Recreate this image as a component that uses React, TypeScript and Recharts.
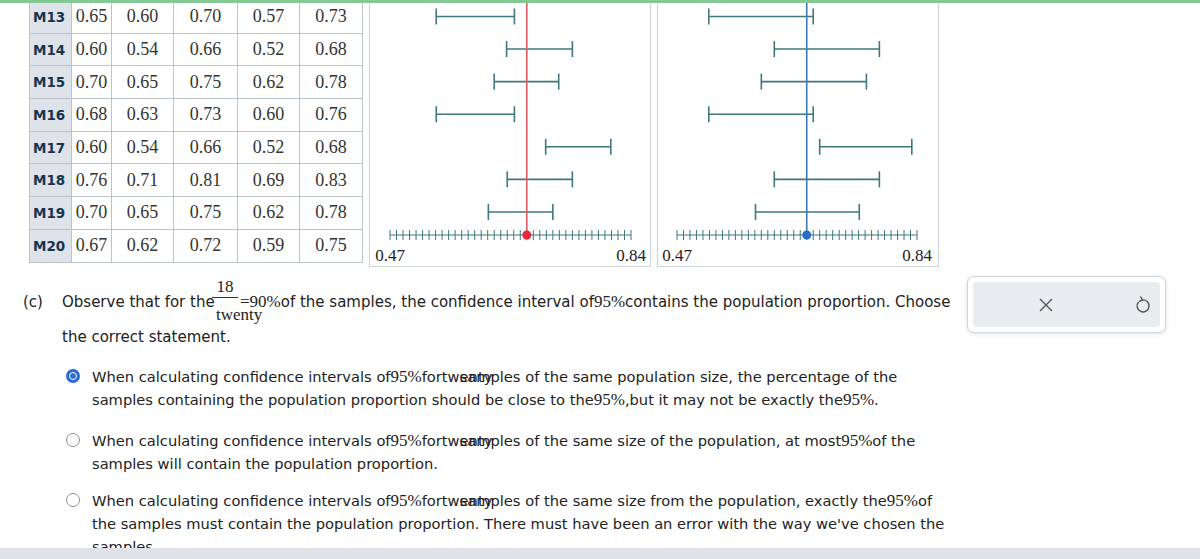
import React from 'react';
import { BarChart, Bar, XAxis, YAxis, ReferenceLine } from 'recharts';

// table rows (sample, p-hat, 90% low, 90% high, 95% low, 95% high)
const sampleNames = ['M13', 'M14', 'M15', 'M16', 'M17', 'M18', 'M19', 'M20'];
const pHat = ['0.65', '0.60', '0.70', '0.68', '0.60', '0.76', '0.70', '0.67'];
const low90 = ['0.60', '0.54', '0.65', '0.63', '0.54', '0.71', '0.65', '0.62'];
const high90 = ['0.70', '0.66', '0.75', '0.73', '0.66', '0.81', '0.75', '0.72'];
const low95 = ['0.57', '0.52', '0.62', '0.60', '0.52', '0.69', '0.62', '0.59'];
const high95 = ['0.73', '0.68', '0.78', '0.76', '0.68', '0.83', '0.78', '0.75'];

// intervals as drawn in the two plots (rows M13..M19)
const plotRows = ['M13', 'M14', 'M15', 'M16', 'M17', 'M18', 'M19'];
const leftLow = [0.541, 0.649, 0.63, 0.541, 0.709, 0.65, 0.621];
const leftHigh = [0.661, 0.75, 0.729, 0.661, 0.809, 0.75, 0.72];
const rightLow = [0.519, 0.62, 0.6, 0.519, 0.69, 0.62, 0.591];
const rightHigh = [0.68, 0.782, 0.762, 0.68, 0.832, 0.782, 0.751];
const leftP = 0.68;
const rightP = 0.67;

const axisTicks = [
  0.47, 0.48, 0.49, 0.5, 0.51, 0.52, 0.53, 0.54, 0.55, 0.56, 0.57, 0.58, 0.59,
  0.6, 0.61, 0.62, 0.63, 0.64, 0.65, 0.66, 0.67, 0.68, 0.69, 0.7, 0.71, 0.72,
  0.73, 0.74, 0.75, 0.76, 0.77, 0.78, 0.79, 0.8, 0.81, 0.82, 0.83, 0.84,
];

const TEAL = '#3e777c';
const SANS = '"DejaVu Sans", Verdana, sans-serif';
const SERIF = '"Liberation Serif", "Times New Roman", serif';

const IntervalShape = (props: any) => {
  const { x, y, width, height } = props;
  const cy = y + height / 2;
  return (
    <g stroke={TEAL} strokeWidth={1.6} fill="none">
      <line x1={x} x2={x + width} y1={cy} y2={cy} />
      <line x1={x} x2={x} y1={cy - 8} y2={cy + 8} />
      <line x1={x + width} x2={x + width} y1={cy - 8} y2={cy + 8} />
    </g>
  );
};

const makeTick = (p: number, dotColor: string) => (props: any) => {
  const { x, y, payload, index } = props;
  const v = payload.value;
  const isEnd = index === 0 || index === axisTicks.length - 1;
  return (
    <g>
      <line x1={x} x2={x} y1={y - 5} y2={y + 5} stroke={TEAL} strokeWidth={1} />
      {Math.abs(v - p) < 1e-6 && <circle cx={x} cy={y} r={4.5} fill={dotColor} />}
      {isEnd && (
        <text x={x} y={y + 26} textAnchor="middle" fontFamily={SERIF} fontSize={17} fill="#222">
          {v.toFixed(2)}
        </text>
      )}
    </g>
  );
};

const IntervalPlot = ({ lows, highs, p, lineColor, dotColor, left, ml, mr }: any) => {
  const data = plotRows.map((r, i) => ({ row: r, range: [lows[i], highs[i]] }));
  return (
    <div style={{ position: 'absolute', left, top: 0 }}>
      <BarChart
        width={280}
        height={266}
        data={data}
        layout="vertical"
        margin={{ top: 0, right: mr, bottom: 1, left: ml }}
        barCategoryGap={0}
      >
        <XAxis
          type="number"
          domain={[0.47, 0.84]}
          ticks={axisTicks}
          interval={0}
          tickSize={0}
          tickMargin={0}
          height={30}
          allowDataOverflow
          axisLine={{ stroke: TEAL, strokeWidth: 1.2 }}
          tick={makeTick(p, dotColor)}
        />
        <YAxis type="category" dataKey="row" hide padding={{ top: 0, bottom: 7 }} />
        <ReferenceLine x={p} stroke={lineColor} strokeWidth={1.6} />
        <Bar dataKey="range" shape={IntervalShape} isAnimationActive={false} />
      </BarChart>
    </div>
  );
};

const cellBase: React.CSSProperties = {
  border: '1px solid #bcc4cb',
  textAlign: 'center',
  fontFamily: SERIF,
  fontSize: 18,
  color: '#333',
  padding: 0,
  height: 31.7,
};

const Radio = ({ top, checked }: { top: number; checked?: boolean }) => (
  <div
    style={{
      position: 'absolute',
      left: 66,
      top: top - 7,
      width: 14,
      height: 14,
      borderRadius: '50%',
      boxSizing: 'border-box',
      background: checked ? '#2a6bd6' : '#fff',
      border: checked ? 'none' : '1px solid #8a8f95',
    }}
  >
    {checked && (
      <div
        style={{
          position: 'absolute',
          left: 3,
          top: 3,
          width: 8,
          height: 8,
          borderRadius: '50%',
          boxSizing: 'border-box',
          border: '1.5px solid #fff',
          background: '#2a6bd6',
        }}
      />
    )}
  </div>
);

const Twenty = () => (
  <>
    fortw
    <span style={{ position: 'relative' }}>
      <span style={{ position: 'absolute', left: 0 }}>enty</span>
      samples
    </span>
  </>
);

const P95 = () => <span style={{ fontFamily: SERIF, fontSize: 17 }}>95%</span>;

const textLine: React.CSSProperties = {
  position: 'absolute',
  fontFamily: SANS,
  fontSize: 15,
  color: '#222',
  whiteSpace: 'nowrap',
  lineHeight: '18px',
};

const optionLine: React.CSSProperties = {
  ...textLine,
  fontSize: 14.67,
  lineHeight: '23px',
  left: 92,
};

export default function App() {
  return (
    <div
      style={{
        position: 'absolute',
        left: 0,
        top: 0,
        width: 1200,
        height: 559,
        overflow: 'hidden',
        background: '#fff',
      }}
    >
      {/* table */}
      <table
        style={{
          position: 'absolute',
          left: 29,
          top: 0,
          borderCollapse: 'collapse',
          tableLayout: 'fixed',
        }}
      >
        <colgroup>
          <col style={{ width: 42 }} />
          <col style={{ width: 40 }} />
          <col style={{ width: 62 }} />
          <col style={{ width: 64 }} />
          <col style={{ width: 62 }} />
          <col style={{ width: 63 }} />
        </colgroup>
        <tbody>
          {sampleNames.map((name, i) => (
            <tr key={name}>
              <td
                style={{
                  ...cellBase,
                  background: '#dde3e8',
                  fontFamily: SANS,
                  fontWeight: 'bold',
                  fontSize: 13.5,
                  color: '#17344f',
                  textAlign: 'left',
                  paddingLeft: 3,
                }}
              >
                {name}
              </td>
              <td style={cellBase}>{pHat[i]}</td>
              <td style={cellBase}>{low90[i]}</td>
              <td style={cellBase}>{high90[i]}</td>
              <td style={cellBase}>{low95[i]}</td>
              <td style={cellBase}>{high95[i]}</td>
            </tr>
          ))}
        </tbody>
      </table>

      {/* plot panels */}
      <div
        style={{
          position: 'absolute',
          left: 369,
          top: -10,
          width: 280,
          height: 275,
          border: '1px solid #cfd4d8',
        }}
      />
      <div
        style={{
          position: 'absolute',
          left: 657,
          top: -10,
          width: 280,
          height: 275,
          border: '1px solid #cfd4d8',
        }}
      />
      <IntervalPlot
        lows={leftLow}
        highs={leftHigh}
        p={leftP}
        lineColor="#de5b66"
        dotColor="#e42a3c"
        left={369}
        ml={21}
        mr={18}
      />
      <IntervalPlot
        lows={rightLow}
        highs={rightHigh}
        p={rightP}
        lineColor="#3c78b4"
        dotColor="#2c6cc6"
        left={657}
        ml={20}
        mr={20}
      />

      {/* top green bar */}
      <div style={{ position: 'absolute', left: 0, top: 0, width: 1200, height: 3, background: '#84c994' }} />

      {/* question (c) */}
      <div style={{ ...textLine, left: 23, top: 293 }}>(c)</div>
      <div style={{ ...textLine, left: 62, top: 293 }}>Observe that for the</div>
      <div
        style={{
          position: 'absolute',
          left: 212,
          top: 276,
          width: 26,
          fontFamily: SERIF,
          fontSize: 17,
          color: '#222',
        }}
      >
        <div style={{ textAlign: 'center', lineHeight: '21px', height: 21 }}>18</div>
        <div style={{ borderTop: '1px solid #333', width: 26 }} />
        <div style={{ lineHeight: '18px', marginTop: 8, marginLeft: 4, whiteSpace: 'nowrap' }}>twenty</div>
      </div>
      <div style={{ ...textLine, left: 240, top: 293 }}>
        <span style={{ fontFamily: SERIF, fontSize: 17 }}>=90%</span>of the samples, the confidence
        interval of<P95 />contains the population proportion. Choose
      </div>
      <div style={{ ...textLine, left: 62, top: 328 }}>the correct statement.</div>

      {/* options */}
      <Radio top={376} checked />
      <div style={{ ...optionLine, top: 365 }}>
        When calculating confidence intervals of<P95 />
        <Twenty /> of the same population size, the percentage of the
        <br />
        samples containing the population proportion should be close to the<P95 />,but it may not be
        exactly the<P95 />.
      </div>
      <Radio top={440} />
      <div style={{ ...optionLine, top: 429 }}>
        When calculating confidence intervals of<P95 />
        <Twenty /> of the same size of the population, at most<P95 />of the
        <br />
        samples will contain the population proportion.
      </div>
      <Radio top={500} />
      <div style={{ ...optionLine, top: 489 }}>
        When calculating confidence intervals of<P95 />
        <Twenty /> of the same size from the population, exactly the<P95 />of
        <br />
        the samples must contain the population proportion. There must have been an error with the way
        we've chosen the
        <br />
        samples.
      </div>

      {/* action box */}
      <div
        style={{
          position: 'absolute',
          left: 967,
          top: 276,
          width: 199,
          height: 57,
          boxSizing: 'border-box',
          border: '1px solid #cfd4d8',
          borderRadius: 7,
          background: '#fff',
          boxShadow: '0 1px 4px rgba(0,0,0,0.12)',
        }}
      >
        <div
          style={{
            position: 'absolute',
            left: 5,
            top: 5,
            right: 5,
            bottom: 5,
            background: '#e8edf0',
            borderRadius: 4,
          }}
        />
        <svg style={{ position: 'absolute', left: 70, top: 20 }} width={16} height={16}>
          <path d="M2 2 L14 14 M14 2 L2 14" stroke="#555" strokeWidth={1.4} />
        </svg>
        <svg style={{ position: 'absolute', left: 165, top: 17 }} width={18} height={22}>
          <path d="M5.5 8 A6 6 0 1 0 9 6" stroke="#555" strokeWidth={1.4} fill="none" />
          <path d="M7.5 2.5 L9.5 6 L6 7.5" stroke="#555" strokeWidth={1.4} fill="none" />
        </svg>
      </div>

      {/* bottom bar */}
      <div style={{ position: 'absolute', left: 0, top: 548, width: 1200, height: 11, background: '#dfe3e7' }} />
    </div>
  );
}
